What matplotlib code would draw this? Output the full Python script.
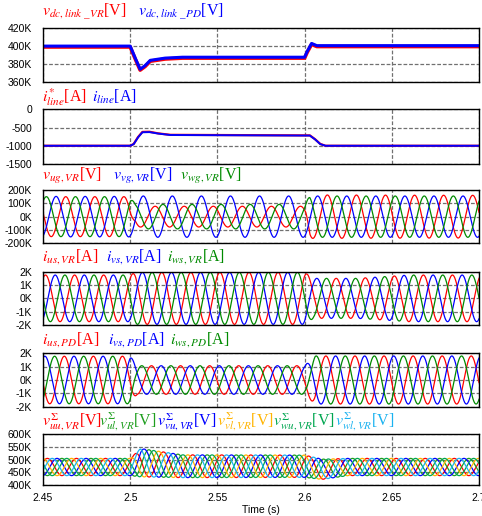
import numpy as np
import matplotlib
matplotlib.use("Agg")
import matplotlib.pyplot as plt
from matplotlib.ticker import FuncFormatter

plt.rcParams["mathtext.fontset"] = "stix"
plt.rcParams["font.family"] = ["Liberation Sans", "DejaVu Sans"]
plt.rcParams["axes.unicode_minus"] = False

FREQ = 60.0
T_START, T_END = 2.45, 2.7
X_TICKS = [2.45, 2.5, 2.55, 2.6, 2.65, 2.7]
X_TICK_LABELS = ["2.45", "2.5", "2.55", "2.6", "2.65", "2.7"]

# panel 1: dc link voltage (V)
DC_T = [2.45, 2.5, 2.503, 2.5057, 2.5085, 2.5115, 2.52, 2.53, 2.6, 2.6015, 2.604, 2.607, 2.7]
DC_VR = [399e3, 399e3, 385e3, 373e3, 377e3, 383e3, 385.5e3, 386.5e3, 386.5e3, 393e3, 402e3, 399.5e3, 399.5e3]
DC_PD = [400e3, 400e3, 386e3, 374e3, 378e3, 384e3, 386.5e3, 387.5e3, 387.5e3, 394e3, 403e3, 400.5e3, 400.5e3]

# panel 2: line current (A)
LINE_T = [2.45, 2.5, 2.502, 2.5045, 2.507, 2.511, 2.516, 2.523, 2.6, 2.603, 2.606, 2.609, 2.612, 2.7]
LINE_REF = [-1000, -1000, -950, -760, -620, -615, -660, -700, -715, -715, -820, -950, -1000, -1000]
LINE_ACT = [-1000, -1000, -955, -770, -630, -625, -665, -705, -720, -720, -825, -955, -1000, -1000]

# panel 3: grid voltages, amplitude (V) and phase (deg) envelopes
VG_T = [2.45, 2.5, 2.503, 2.6, 2.603, 2.7]
VG_U_AMP = [150e3, 150e3, 78e3, 78e3, 163e3, 160e3]
VG_V_AMP = [152e3, 152e3, 155e3, 155e3, 155e3, 155e3]
VG_W_AMP = [150e3, 150e3, 92e3, 92e3, 155e3, 155e3]
VG_U_PH = [-120, -120, -147, -147, -120, -120]
VG_V_PH = [0, 0, 0, 0, 0, 0]
VG_W_PH = [120, 120, 116, 116, 120, 120]
VG_T_PEAK = 2.4575

# panel 4: VR stack currents (A)
IVR_T = [2.45, 2.5, 2.503, 2.6, 2.605, 2.63, 2.66, 2.7]
IVR_AMP = [1750, 1750, 1950, 1950, 1500, 1500, 1750, 1750]
IVR_T_PEAK = 2.457

# panel 5: PD stack currents (A)
IPD_T = [2.45, 2.5, 2.504, 2.6, 2.606, 2.7]
IPD_AMP = [1780, 1780, 1070, 1070, 1800, 1800]
IPD_T_PEAK = 2.4511

# panel 6: arm capacitor voltage sums (V)
ARM_T = [2.45, 2.5, 2.506, 2.53, 2.6, 2.61, 2.625, 2.7]
ARM_MEAN = [471e3, 471e3, 488e3, 474e3, 474e3, 462e3, 471e3, 471e3]
ARM_AMP = [34e3, 34e3, 56e3, 45e3, 44e3, 40e3, 34e3, 34e3]
ARM_PH = [0, 180, -120, 60, 120, -60]
ARM_T_PEAK = 2.4525

RED, BLUE, GREEN = "#ff0000", "#0000ff", "#008a00"
ARM_COLORS = ["#ff0000", "#1e9e1e", "#0000ff", "#ffb400", "#00a650", "#1ab2f0"]


def wave(t, env_t, amp, t_peak, ph_t=None, ph=None, mean=0.0):
    a = np.interp(t, env_t, amp)
    p = np.zeros_like(t) if ph is None else np.radians(np.interp(t, ph_t, ph))
    return mean + a * np.cos(2 * np.pi * FREQ * (t - t_peak) + p)


def kfmt(v, _):
    return f"{v / 1000:.0f}K"


W, H = 482, 516
fig = plt.figure(figsize=(W / 100, H / 100), dpi=100)

PANELS = [(28.3, 81.7), (109.3, 164), (190, 243.3), (271.7, 325), (353.3, 406.7), (434.3, 485)]
axes = []
for top, bot in PANELS:
    ax = fig.add_axes([43 / W, 1 - bot / H, (479 - 43) / W, (bot - top) / H])
    axes.append(ax)

t = np.linspace(T_START, T_END, 6000)

ax = axes[0]
ax.plot(DC_T, DC_VR, color=RED, lw=2.6)
ax.plot(DC_T, DC_PD, color=BLUE, lw=2.2)
ax.set_ylim(360e3, 420e3)
ax.set_yticks([360e3, 380e3, 400e3, 420e3])

ax = axes[1]
ax.plot(LINE_T, LINE_REF, color=RED, lw=1.6)
ax.plot(LINE_T, LINE_ACT, color=BLUE, lw=1.4)
ax.set_ylim(-1500, 0)
ax.set_yticks([-1500, -1000, -500, 0])

ax = axes[2]
ax.plot(t, wave(t, VG_T, VG_U_AMP, VG_T_PEAK, VG_T, VG_U_PH), color=RED, lw=0.9)
ax.plot(t, wave(t, VG_T, VG_V_AMP, VG_T_PEAK, VG_T, VG_V_PH), color=BLUE, lw=0.9)
ax.plot(t, wave(t, VG_T, VG_W_AMP, VG_T_PEAK, VG_T, VG_W_PH), color=GREEN, lw=0.9)
ax.set_ylim(-200e3, 200e3)
ax.set_yticks([-200e3, -100e3, 0, 100e3, 200e3])

for ax, env_t, amp, tp in [(axes[3], IVR_T, IVR_AMP, IVR_T_PEAK), (axes[4], IPD_T, IPD_AMP, IPD_T_PEAK)]:
    for c, off in [(RED, -1 / 3), (BLUE, 0.0), (GREEN, 1 / 3)]:
        ax.plot(t, wave(t, env_t, amp, tp + off / FREQ), color=c, lw=0.9)
    ax.set_ylim(-2000, 2000)
    ax.set_yticks([-2000, -1000, 0, 1000, 2000])

ax = axes[5]
for c, ph in zip(ARM_COLORS, ARM_PH):
    ax.plot(t, wave(t, ARM_T, ARM_AMP, ARM_T_PEAK, [T_START, T_END], [ph, ph],
                    mean=np.interp(t, ARM_T, ARM_MEAN)), color=c, lw=0.9)
ax.set_ylim(400e3, 600e3)
ax.set_yticks([400e3, 450e3, 500e3, 550e3, 600e3])

for i, ax in enumerate(axes):
    ax.set_xlim(T_START, T_END)
    ax.set_xticks(X_TICKS)
    if i != 1:
        ax.yaxis.set_major_formatter(FuncFormatter(kfmt))
    ax.tick_params(length=0, pad=8, labelsize=7.5)
    ax.grid(True, color="#707070", linestyle=(0, (3, 1.5)), linewidth=0.9)
    for s in ax.spines.values():
        s.set_linewidth(1.0)
    if i < 5:
        ax.set_xticklabels([])
    else:
        ax.set_xticklabels(X_TICK_LABELS)
        ax.tick_params(axis="x", pad=6)
        ax.set_xlabel("Time (s)", fontsize=7.5, labelpad=1)

# coloured signal names above each panel: (text, colour, x px, baseline px)
LABELS = [
    [(r"$v_{dc,link\ \_VR}$[V]", RED, 41.7, 15), (r"$v_{dc,link\ \_PD}$[V]", BLUE, 138, 15)],
    [(r"$i_{line}^{*}$[A]", RED, 41.7, 102), (r"$i_{line}$[A]", BLUE, 91.7, 102)],
    [(r"$v_{ug,VR}$[V]", RED, 41.7, 180), (r"$v_{vg,VR}$[V]", BLUE, 112.7, 180),
     (r"$v_{wg,VR}$[V]", GREEN, 180, 180)],
    [(r"$i_{us,VR}$[A]", RED, 41.7, 260), (r"$i_{vs,VR}$[A]", BLUE, 106, 260),
     (r"$i_{ws,VR}$[A]", GREEN, 166.7, 260)],
    [(r"$i_{us,PD}$[A]", RED, 41.7, 343), (r"$i_{vs,PD}$[A]", BLUE, 108.3, 343),
     (r"$i_{ws,PD}$[A]", GREEN, 170, 343)],
    [(r"$v_{uu,VR}^{\Sigma}$[V]", ARM_COLORS[0], 41.7, 425),
     (r"$v_{ul,VR}^{\Sigma}$[V]", ARM_COLORS[1], 99.3, 425),
     (r"$v_{vu,VR}^{\Sigma}$[V]", ARM_COLORS[2], 156.7, 425),
     (r"$v_{vl,VR}^{\Sigma}$[V]", ARM_COLORS[3], 216.7, 425),
     (r"$v_{wu,VR}^{\Sigma}$[V]", ARM_COLORS[4], 272.7, 425),
     (r"$v_{wl,VR}^{\Sigma}$[V]", ARM_COLORS[5], 335, 425)],
]
for row in LABELS:
    for txt, c, x, y in row:
        fig.text(x / W, 1 - y / H, txt, color=c, fontsize=11.5, family="Liberation Serif",
                 ha="left", va="baseline")

fig.savefig("out.png", dpi=100)
